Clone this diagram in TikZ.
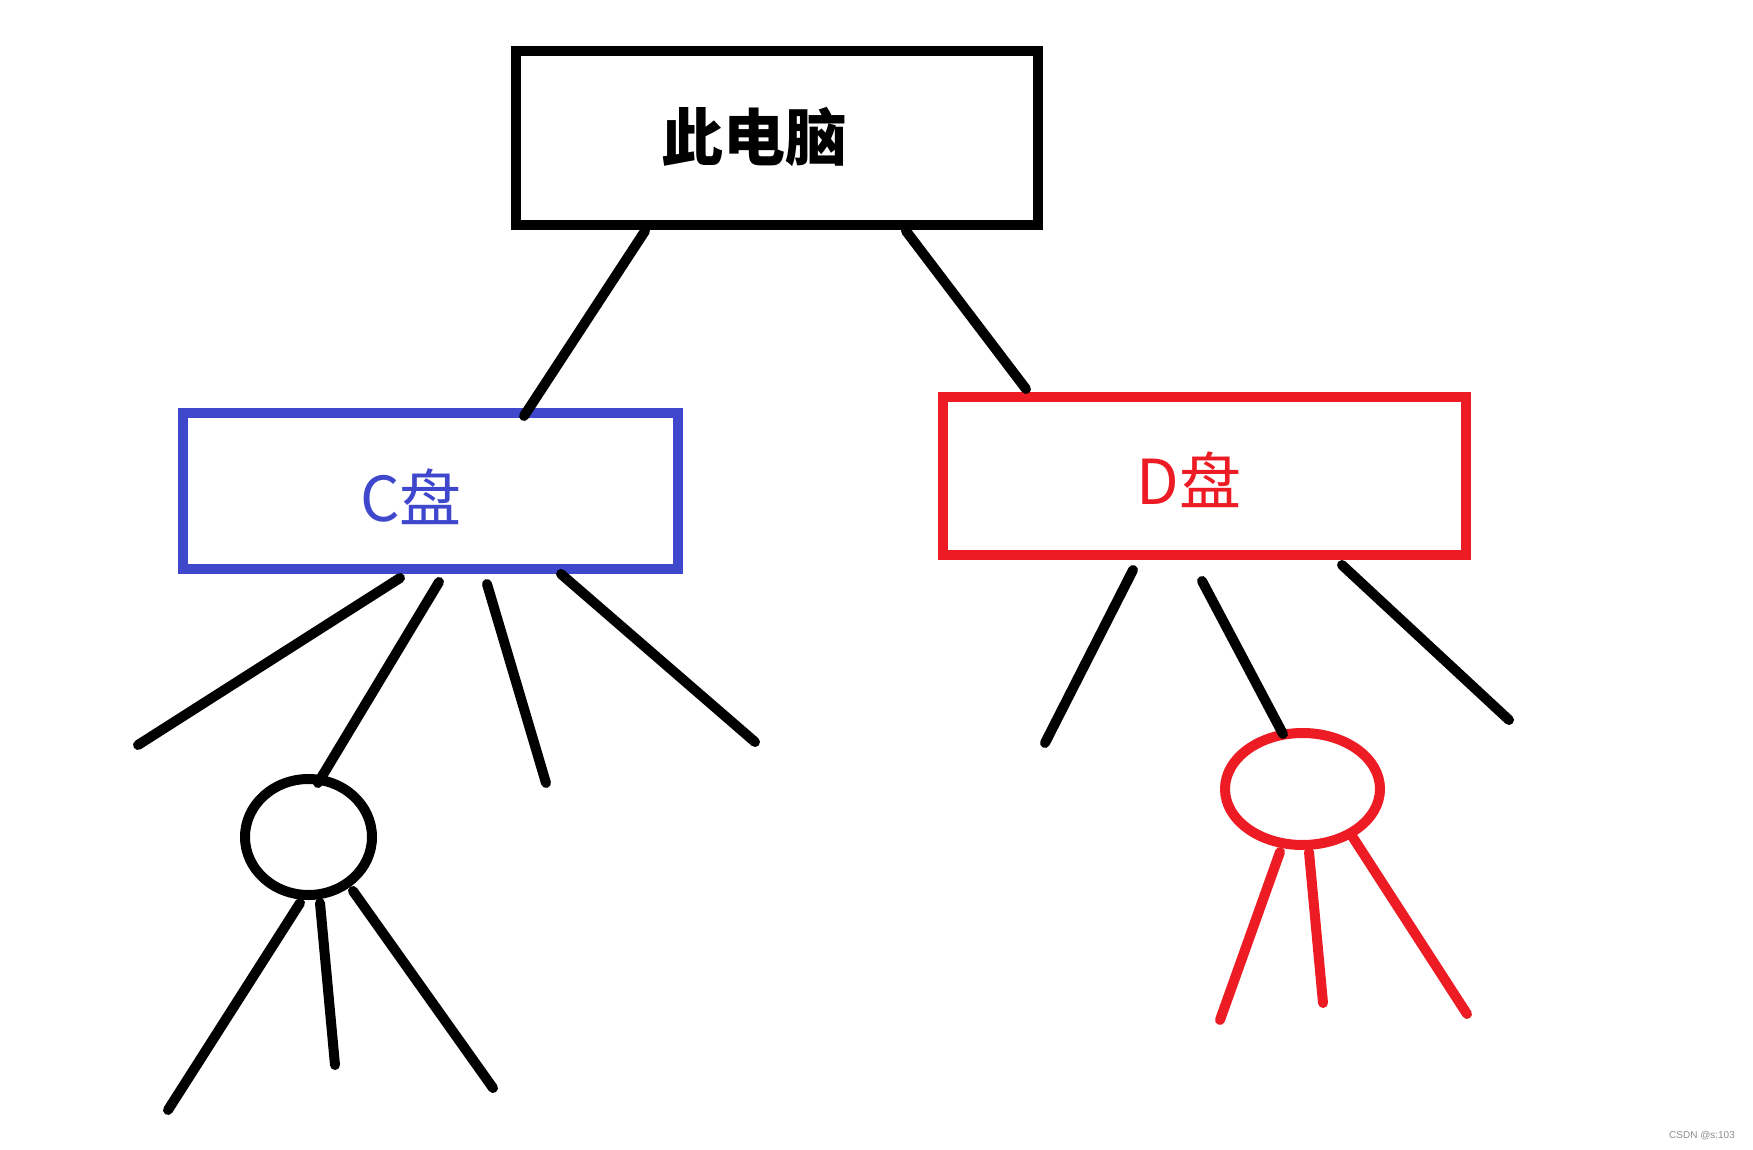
\documentclass[tikz,border=0pt]{standalone}
\usepackage{fontspec}
\usetikzlibrary{shapes.geometric}
\newfontfamily\cjk{Noto Sans CJK SC}
\newfontfamily\wmfont{Liberation Sans}
\definecolor{pblue}{HTML}{3F48CC}
\definecolor{pred}{HTML}{ED1C24}
\begin{document}
\begin{tikzpicture}[x=1pt,y=-1pt,
  box/.style={draw,rectangle,line width=10pt,inner sep=0pt,outer sep=0pt},
  oval/.style={draw,ellipse,line width=10pt,inner sep=0pt,outer sep=0pt},
  stroke/.style={line width=10pt,line cap=round},
  lbl/.style={inner sep=0pt,font=\cjk\fontsize{62}{62}\selectfont}]
\useasboundingbox (0,0) rectangle (1753,1150);
% boxes
\node[box,minimum width=522pt,minimum height=174pt] (pc) at (777,138) {};
\node[lbl,font=\cjk\bfseries\fontsize{62}{62}\selectfont] (pct) at (754,137) {此电脑};
\node[box,draw=pblue,minimum width=495pt,minimum height=156pt] (c) at (430.5,491) {};
\node[lbl,text=pblue] (ct) at (411,497) {C盘};
\node[box,draw=pred,minimum width=523pt,minimum height=158pt] (d) at (1204.5,476) {};
\node[lbl,text=pred] (dt) at (1189,480) {D盘};
% ellipses
\node[oval,minimum width=127pt,minimum height=116pt] (c2) at (308.5,837) {};
\node[oval,draw=pred,minimum width=155pt,minimum height=112pt] (d2) at (1302.5,789) {};
% connection points
\coordinate (pcL) at (645,231);
\coordinate (pcR) at (906,231);
\coordinate (cT) at (524,416);
\coordinate (dT) at (1026,389);
\coordinate (c1s) at (400,578); \coordinate (c1e) at (138,745);
\coordinate (c2s) at (439,582); \coordinate (c2e) at (318,783);
\coordinate (c3s) at (487,584); \coordinate (c3e) at (546,783);
\coordinate (c4s) at (561,574); \coordinate (c4e) at (755,742);
\coordinate (e1s) at (300,903); \coordinate (e1e) at (168,1110);
\coordinate (e2s) at (320,903); \coordinate (e2e) at (335,1065);
\coordinate (e3s) at (353,891); \coordinate (e3e) at (493,1088);
\coordinate (d1s) at (1133,570); \coordinate (d1e) at (1045,743);
\coordinate (d2s) at (1202,581); \coordinate (d2e) at (1283,734);
\coordinate (d3s) at (1342,565); \coordinate (d3e) at (1509,720);
\coordinate (f1s) at (1280,852); \coordinate (f1e) at (1220,1020);
\coordinate (f2s) at (1309,852); \coordinate (f2e) at (1323,1003);
\coordinate (f3s) at (1352,836); \coordinate (f3e) at (1467,1014);
% connectors
\draw[stroke] (pcL) -- (cT);
\draw[stroke] (pcR) -- (dT);
\draw[stroke] (c1s) -- (c1e);
\draw[stroke] (c2s) -- (c2e);
\draw[stroke] (c3s) -- (c3e);
\draw[stroke] (c4s) -- (c4e);
\draw[stroke] (e1s) -- (e1e);
\draw[stroke] (e2s) -- (e2e);
\draw[stroke] (e3s) -- (e3e);
\draw[stroke] (d1s) -- (d1e);
\draw[stroke] (d2s) -- (d2e);
\draw[stroke] (d3s) -- (d3e);
\draw[stroke,pred] (f1s) -- (f1e);
\draw[stroke,pred] (f2s) -- (f2e);
\draw[stroke,pred] (f3s) -- (f3e);
% watermark
\node[inner sep=0pt,text=black!45,font=\wmfont\fontsize{10}{10}\selectfont] (wm) at (1702,1136) {CSDN @s:103};
\end{tikzpicture}
\end{document}
